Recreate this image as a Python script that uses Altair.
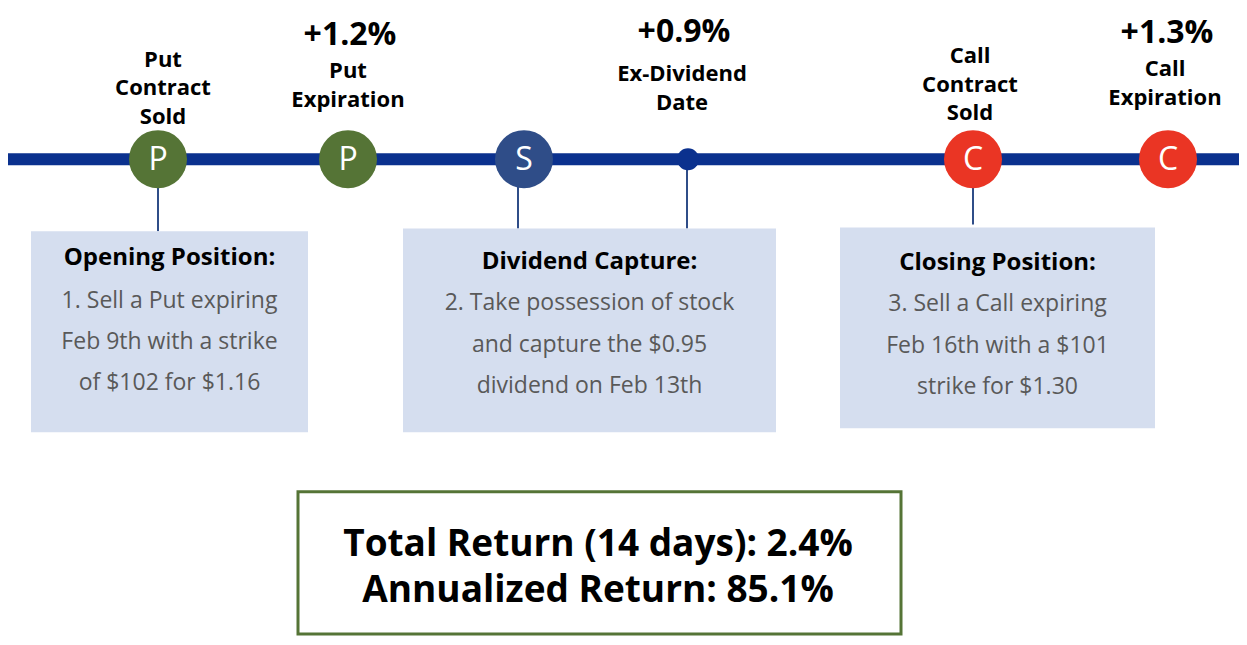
import altair as alt
import pandas as pd

# ---------------- data ----------------
event_names = ["Put Contract Sold", "Put Expiration", "Stock Assigned",
               "Ex-Dividend Date", "Call Contract Sold", "Call Expiration"]
event_pos = [158, 348, 524, 688, 973, 1168]          # position along the timeline
event_letters = ["P", "P", "S", "", "C", "C"]
event_kind = ["put", "put", "stock", "dividend", "call", "call"]

label_lines = [["Put", "Contract", "Sold"], ["Put", "Expiration"], [],
               ["Ex-Dividend", "Date"], ["Call", "Contract", "Sold"], ["Call", "Expiration"]]
returns = ["", "+1.2%", "", "+0.9%", "", "+1.3%"]

box_titles = ["Opening Position:", "Dividend Capture:", "Closing Position:"]
box_lines = [["1. Sell a Put expiring", "Feb 9th with a strike", "of $102 for $1.16"],
             ["2. Take possession of stock", "and capture the $0.95", "dividend on Feb 13th"],
             ["3. Sell a Call expiring", "Feb 16th with a $101", "strike for $1.30"]]

summary_lines = ["Total Return (14 days): 2.4%", "Annualized Return: 85.1%"]

# ---------------- layout ----------------
W, H = 1231, 629
LINE_Y = 155
label_x = [163, 348, None, 682, 970, 1165]
label_top = [53, 65, None, 68, 49, 63]
label_step = 29.5
return_y = [None, 28, None, 25, None, 25.5]
return_x = [None, 350, None, 684, None, 1167]

box_x = [(31, 308), (403, 776), (840, 1155)]
box_y = [(229, 435), (226, 435), (225, 431)]
box_title_y = [256, 260, 261]
box_line_y0 = [300, 303, 304]
box_step = 42.5

connectors = [(184, 229), (183, 226), (165, 226), (184, 222)]
connector_x = [158, 518, 687, 973]

colors = {"put": "#557436", "stock": "#2F4D88", "dividend": "#0B318E", "call": "#EA3524"}
FONT = "Open Sans"

xs = alt.Scale(domain=[8, 8 + W])
ys = alt.Scale(domain=[0, 645], reverse=True)
X = lambda f: alt.X(f, type="quantitative", scale=xs, axis=None)
Y = lambda f: alt.Y(f, type="quantitative", scale=ys, axis=None)

ev = pd.DataFrame({"name": event_names, "pos": event_pos, "letter": event_letters,
                   "kind": event_kind, "y": [LINE_Y] * 6,
                   "color": [colors[k] for k in event_kind]})

# timeline bar
timeline = alt.Chart(pd.DataFrame({"y": [LINE_Y]})).mark_rule(
    color="#0B318E", strokeWidth=12).encode(
    x=alt.value(0), x2=alt.value(W), y=Y("y"))

# connectors
con_df = pd.DataFrame({"x": connector_x,
                       "y1": [c[0] for c in connectors],
                       "y2": [c[1] for c in connectors]})
con = alt.Chart(con_df).mark_rule(color="#2F4D88", strokeWidth=2).encode(
    x=X("x"), y=Y("y1"), y2="y2")

big = ev[ev["letter"] != ""]
circles = alt.Chart(big).mark_circle(size=3364, opacity=1).encode(
    x=X("pos"), y=Y("y"), color=alt.Color("color:N", scale=None))
dot = alt.Chart(ev[ev["letter"] == ""]).mark_circle(size=484, opacity=1).encode(
    x=X("pos"), y=Y("y"), color=alt.Color("color:N", scale=None))
letters = alt.Chart(big).mark_text(font=FONT, fontSize=32, color="white",
                                   baseline="middle", dy=1).encode(
    x=X("pos"), y=Y("y"), text="letter:N")

# labels above
rows = []
for i, lines in enumerate(label_lines):
    for j, t in enumerate(lines):
        rows.append({"x": label_x[i], "y": label_top[i] + j * label_step, "t": t})
lab = alt.Chart(pd.DataFrame(rows)).mark_text(
    font=FONT, fontSize=22, fontWeight="bold", color="#000000", baseline="middle").encode(
    x=X("x"), y=Y("y"), text="t:N")

rrows = [{"x": return_x[i], "y": return_y[i], "t": r} for i, r in enumerate(returns) if r]
ret = alt.Chart(pd.DataFrame(rrows)).mark_text(
    font=FONT, fontSize=32, fontWeight="bold", color="#000000", baseline="middle").encode(
    x=X("x"), y=Y("y"), text="t:N")

# boxes
bx = pd.DataFrame({"x1": [b[0] for b in box_x], "x2": [b[1] for b in box_x],
                   "y1": [b[0] for b in box_y], "y2": [b[1] for b in box_y]})
boxes = alt.Chart(bx).mark_rect(color="#D5DEEF").encode(
    x=X("x1"), x2="x2", y=Y("y1"), y2="y2")

trows, brows = [], []
for i in range(3):
    cx = (box_x[i][0] + box_x[i][1]) / 2
    trows.append({"x": cx, "y": box_title_y[i], "t": box_titles[i]})
    for j, t in enumerate(box_lines[i]):
        brows.append({"x": cx, "y": box_line_y0[i] + j * box_step, "t": t})
titles = alt.Chart(pd.DataFrame(trows)).mark_text(
    font=FONT, fontSize=24, fontWeight="bold", color="#000000", baseline="middle").encode(
    x=X("x"), y=Y("y"), text="t:N")
body = alt.Chart(pd.DataFrame(brows)).mark_text(
    font=FONT, fontSize=23, color="#595959", baseline="middle").encode(
    x=X("x"), y=Y("y"), text="t:N")

# summary box
sbox = alt.Chart(pd.DataFrame({"x1": [298], "x2": [901], "y1": [496], "y2": [642]})).mark_rect(
    fill="white", stroke="#557436", strokeWidth=3).encode(
    x=X("x1"), x2="x2", y=Y("y1"), y2="y2")
stext = alt.Chart(pd.DataFrame({"x": [598, 598], "y": [551, 598], "t": summary_lines})).mark_text(
    font=FONT, fontSize=37, fontWeight="bold", color="#000000", baseline="middle").encode(
    x=X("x"), y=Y("y"), text="t:N")

chart = alt.layer(timeline, con, circles, dot, letters, lab, ret, boxes, titles, body,
                  sbox, stext).properties(
    width=W, height=H, padding=0, autosize=alt.AutoSizeParams(type="none")
).configure_view(strokeWidth=0)

chart.save("out.html", embed_options={"renderer": "svg", "actions": False})
